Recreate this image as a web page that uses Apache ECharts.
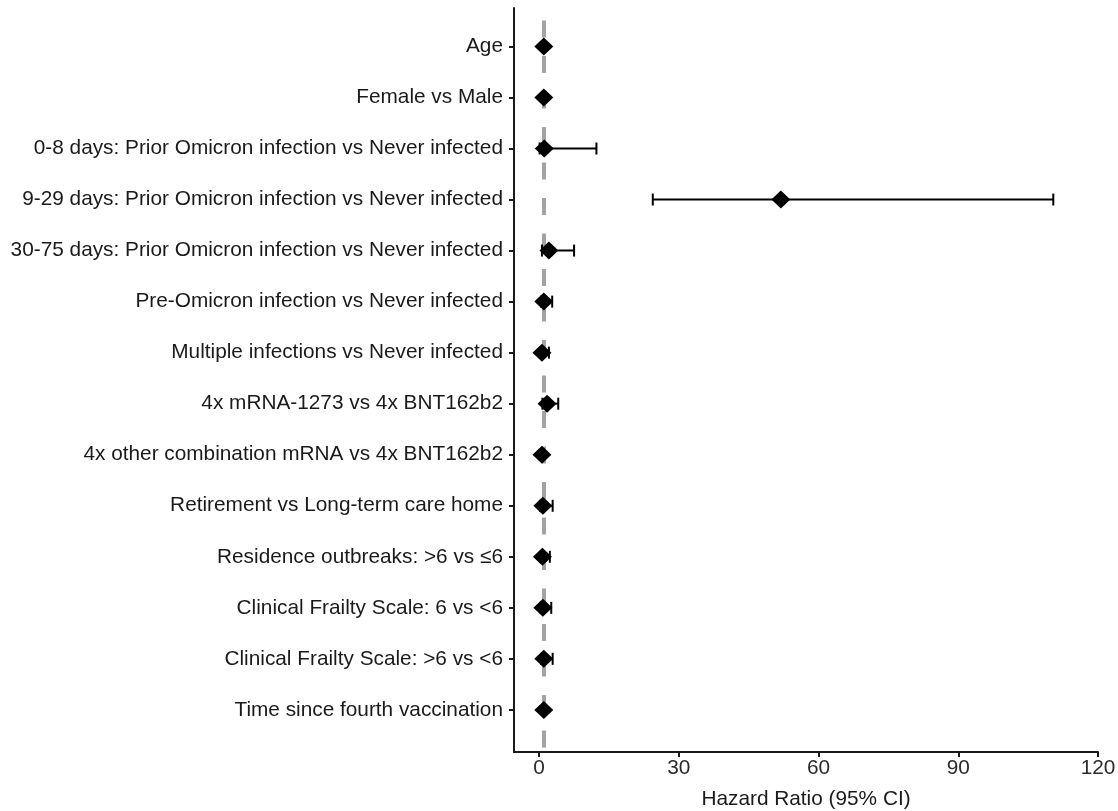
<!DOCTYPE html>
<html>
<head>
<meta charset="utf-8">
<script src="https://cdn.jsdelivr.net/npm/echarts@6/dist/echarts.min.js"></script>
<style>
  html, body { margin: 0; padding: 0; background: #fff; }
  #chart { width: 1118px; height: 811px; }
</style>
</head>
<body>
<div id="chart"></div>
<script>
// rows from top to bottom
const labels = [
  "Age",
  "Female vs Male",
  "0-8 days: Prior Omicron infection vs Never infected",
  "9-29 days: Prior Omicron infection vs Never infected",
  "30-75 days: Prior Omicron infection vs Never infected",
  "Pre-Omicron infection vs Never infected",
  "Multiple infections vs Never infected",
  "4x mRNA-1273 vs 4x BNT162b2",
  "4x other combination mRNA vs 4x BNT162b2",
  "Retirement vs Long-term care home",
  "Residence outbreaks: >6 vs \u22646",
  "Clinical Frailty Scale: 6 vs <6",
  "Clinical Frailty Scale: >6 vs <6",
  "Time since fourth vaccination"
];
const hr    = [1.0, 1.0, 1.1, 51.9, 2.1, 1.0, 0.6, 1.7, 0.6, 0.8, 0.7, 0.8, 1.0, 1.0];
const lower = [0.9, 0.7, 0.1, 24.4, 0.6, 0.4, 0.2, 0.7, 0.3, 0.2, 0.3, 0.3, 0.4, 0.9];
const upper = [1.1, 1.4, 12.3, 110.4, 7.5, 2.8, 2.1, 4.1, 1.0, 2.9, 2.3, 2.6, 2.9, 1.1];
const xTicks = [0, 30, 60, 90, 120];
const refLine = 1;

const rows = labels.map((_, i) => i);
const points = hr.map((v, i) => [v, i]);
const bars = lower.map((v, i) => [v, upper[i], i]);

const chart = echarts.init(document.getElementById("chart"));
const font = "Liberation Sans, Arial, sans-serif";
const ink = "#1a1a1a";

chart.setOption({
  animation: false,
  grid: { left: 514, right: 20, top: 8, bottom: 59, outerBoundsMode: "none" },
  xAxis: {
    type: "value",
    min: -5.4,
    max: 120,
    name: "Hazard Ratio (95% CI)",
    nameLocation: "middle",
    nameGap: 37,
    nameTextStyle: { color: ink, fontSize: 20.8, fontFamily: font },
    axisLine: { show: true, onZero: false, lineStyle: { color: ink, width: 2 } },
    axisTick: { show: true, length: 5, customValues: xTicks, lineStyle: { color: ink, width: 2 } },
    axisLabel: { customValues: xTicks, color: "#2b2b2b", fontSize: 20.8, fontFamily: font, margin: 6 },
    splitLine: { show: false }
  },
  yAxis: {
    type: "value",
    inverse: true,
    min: -0.753,
    max: 13.825,
    axisLine: { show: true, onZero: false, lineStyle: { color: ink, width: 2 } },
    axisTick: { show: true, length: 5, customValues: rows, lineStyle: { color: ink, width: 2 } },
    axisLabel: {
      customValues: rows,
      formatter: v => labels[Math.round(v)],
      color: ink, fontSize: 20.8, fontFamily: font, margin: 11
    },
    splitLine: { show: false }
  },
  series: [
    {
      type: "custom",
      z: 2,
      data: bars,
      renderItem: function (params, api) {
        const a = api.coord([api.value(0), api.value(2)]);
        const b = api.coord([api.value(1), api.value(2)]);
        const h = 6;
        const style = { stroke: "#000", lineWidth: 2 };
        return {
          type: "group",
          children: [
            { type: "line", shape: { x1: a[0], y1: a[1], x2: b[0], y2: b[1] }, style },
            { type: "line", shape: { x1: a[0], y1: a[1] - h, x2: a[0], y2: a[1] + h }, style },
            { type: "line", shape: { x1: b[0], y1: b[1] - h, x2: b[0], y2: b[1] + h }, style }
          ]
        };
      }
    },
    {
      type: "scatter",
      z: 3,
      data: points,
      symbol: "diamond",
      symbolSize: [19, 18],
      itemStyle: { color: "#000", opacity: 1 },
      markLine: {
        silent: true,
        symbol: "none",
        z: 1,
        label: { show: false },
        lineStyle: { color: "#a3a3a3", width: 4, type: [17, 18.5], dashOffset: 23, opacity: 1 },
        data: [{ xAxis: refLine }]
      }
    }
  ]
});
</script>
</body>
</html>
